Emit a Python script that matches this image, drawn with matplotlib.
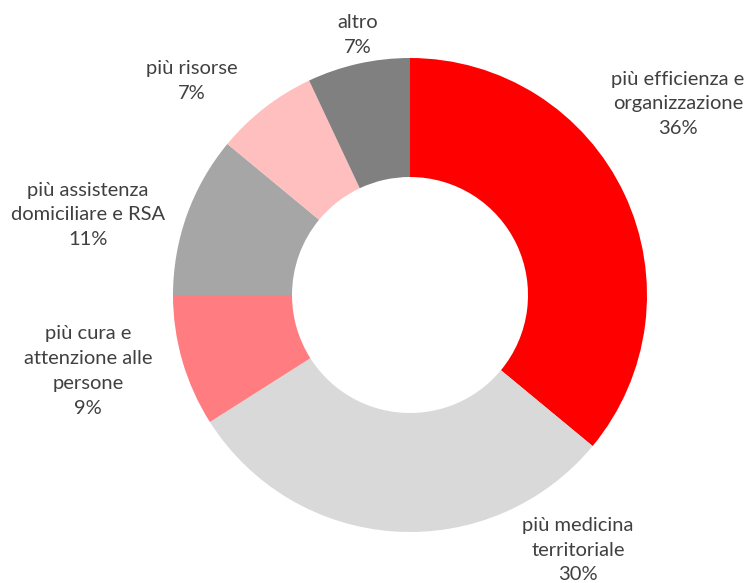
import matplotlib.pyplot as plt

labels = ['più efficienza e\norganizzazione', 'più medicina\nterritoriale',
          'più cura e\nattenzione alle\npersone', 'più assistenza\ndomiciliare e RSA',
          'più risorse', 'altro']
values = [36, 30, 9, 11, 7, 7]
colors = ['#ff0000', '#d9d9d9', '#ff7c80', '#a6a6a6', '#ffbfbf', '#808080']

# label positions in pixels (from top-left)
label_pos = [(678, 104), (578, 550), (88, 371), (88, 215), (192, 81), (358, 35)]

W, H = 746, 583
fig = plt.figure(figsize=(W / 100, H / 100), dpi=100)
ax = fig.add_axes([0, 0, 1, 1])

ax.pie(values, colors=colors, startangle=90, counterclock=False,
       center=(410, H - 295), radius=237, frame=True,
       wedgeprops=dict(width=119, linewidth=0))
ax.set_xlim(0, W)
ax.set_ylim(0, H)
ax.set_aspect('equal')
ax.axis('off')

for lab, v, (x, y) in zip(labels, values, label_pos):
    ax.text(x, H - y, f'{lab}\n{v}%', ha='center', va='center', fontsize=14.5,
            family='Lato', color='#404040', linespacing=1.55)

fig.savefig('out.png', dpi=100)
